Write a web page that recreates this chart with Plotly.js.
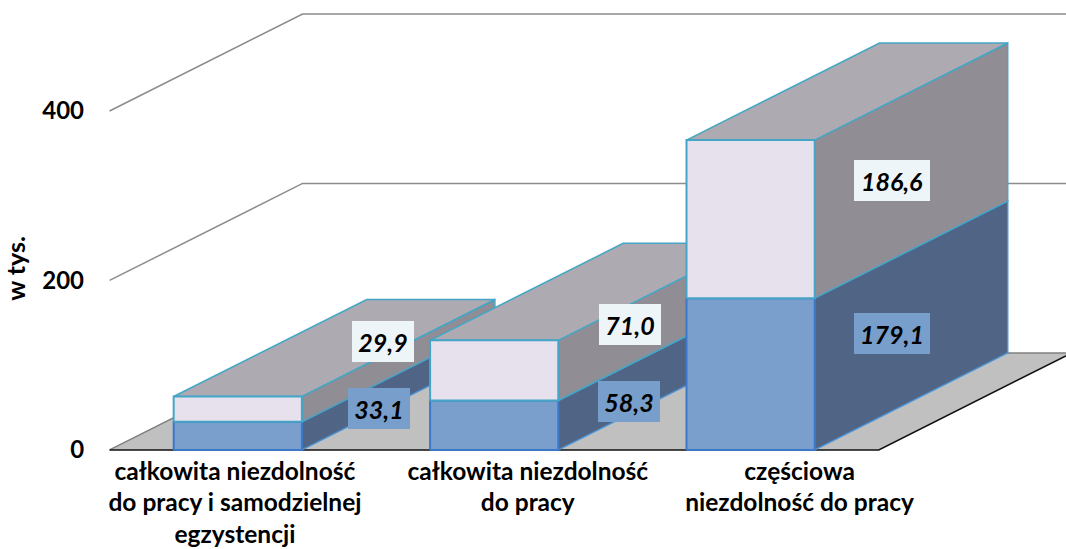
<!DOCTYPE html>
<html><head><meta charset="utf-8">
<script src="https://cdn.plot.ly/plotly-3.0.1.min.js"></script>
<style>html,body{margin:0;padding:0;background:#fff}#c{width:1066px;height:549px}</style>
</head><body><div id="c"></div>
<script>
// Data
const categories = ["całkowita niezdolność<br>do pracy i samodzielnej<br>egzystencji","całkowita niezdolność<br>do pracy","częściowa<br>niezdolność do pracy"];
const lowerValues = [33.1, 58.3, 179.1];
const upperValues = [29.9, 71.0, 186.6];
const lowerLabels = ["33,1","58,3","179,1"];
const upperLabels = ["29,9","71,0","186,6"];
const yTicks = [0, 200, 400];

// Oblique projection of the 3D chart onto the 2D axes
const depthX = 0.7527, depthY = 114.5, halfBar = 0.25;
const P = (x, v, d) => [x + depthX * d, v + depthY * d];
function poly(pts, fill, lineColor, width) {
  const c = pts.map(p => P(p[0], p[1], p[2]));
  c.push(c[0]);
  return {type:'scatter', mode:'lines', x:c.map(p=>p[0]), y:c.map(p=>p[1]), fill:'toself',
          fillcolor:fill, line:{color:lineColor, width:width}, hoverinfo:'skip', showlegend:false};
}
function path(pts, color, width) {
  const c = pts.map(p => P(p[0], p[1], p[2]));
  return {type:'scatter', mode:'lines', x:c.map(p=>p[0]), y:c.map(p=>p[1]),
          line:{color:color, width:width}, hoverinfo:'skip', showlegend:false};
}
const traces = [];
const xL = -0.5, xR = 2.5;
// floor
traces.push(poly([[xL,0,0],[xR,0,0],[xR,0,1],[xL,0,1]], '#c0c0c0', 'rgba(0,0,0,0)', 0));
traces.push(path([[xL,0,0],[xL,0,1],[xR,0,1]], '#808080', 1.5));
traces.push(path([[xL,0,0],[xR,0,0],[xR,0,1]], '#111111', 1.5));
// gridlines on the walls
yTicks.slice(1).forEach(t => traces.push(path([[xL,t,0],[xL,t,1],[xR,t,1]], '#8c8c8c', 1.5)));
// bars
const teal = '#45a5c6', blue = '#3b78c8', skyEdge = '#4b93d6';
lowerValues.forEach((lo, i) => {
  const a = i - halfBar, b = i + halfBar, top = lo + upperValues[i];
  traces.push(poly([[b,0,0],[b,0,1],[b,lo,1],[b,lo,0]], '#506585', skyEdge, 1.5));
  traces.push(poly([[a,0,0],[b,0,0],[b,lo,0],[a,lo,0]], '#7a9fcd', blue, 2));
  traces.push(poly([[b,lo,0],[b,lo,1],[b,top,1],[b,top,0]], '#918d94', teal, 1.5));
  traces.push(poly([[a,top,0],[a,top,1],[b,top,1],[b,top,0]], '#aeaab1', teal, 1.5));
  traces.push(poly([[a,lo,0],[b,lo,0],[b,top,0],[a,top,0]], '#e6e1ec', teal, 2));
});
// data labels: base at segment mid on the side wall, with hand nudges as in the original
const labelDepth = 0.4;
const nudgeLower = [[0,-11.5],[-7,-15],[0,2]];
const nudgeUpper = [[4,28.5],[-6,7],[0,0]];
const annotations = [];
function label(i, mid, text, bg, nudge) {
  const p = P(i + halfBar, mid, labelDepth);
  annotations.push({x:p[0], y:p[1], xref:'x', yref:'y', text:'<b><i>'+text+'</i></b>', showarrow:false,
    xshift:nudge[0], yshift:nudge[1], bgcolor:bg, width:text.length>4?76:62, height:41, align:'center', valign:'middle', borderpad:0, borderwidth:0,
    font:{family:'Lato', size:25, color:'#000'}});
}
lowerValues.forEach((lo,i)=>{
  label(i, lo/2, lowerLabels[i], '#789ecb', nudgeLower[i]);
  label(i, lo+upperValues[i]/2, upperLabels[i], '#edf5f9', nudgeUpper[i]);
});
const layout = {
  width:1066, height:549, margin:{l:0,r:0,t:0,b:0}, paper_bgcolor:'#fff', plot_bgcolor:'#fff', showlegend:false,
  font:{family:'Lato', color:'#000'},
  xaxis:{range:[-0.9273,3.230], domain:[0,1], anchor:'free', position:0.1803, showgrid:false, zeroline:false, showline:false,
         tickmode:'array', tickvals:[-0.011,1.131,2.191], ticktext:categories.map(c=>'<b>'+c+'</b>'), ticks:'', ticklabelstandoff:4, tickangle:0,
         tickfont:{family:'Lato', size:24.5, color:'#000'}},
  yaxis:{range:[-102.7,531], domain:[0.022,1], anchor:'free', position:0.1023, showgrid:false, zeroline:false, showline:false,
         tickmode:'array', tickvals:yTicks, ticktext:yTicks.map(t=>'<b>'+t+'</b>'), ticks:'', ticklabelstandoff:25,
         tickfont:{family:'Lato', size:24, color:'#000'},
         title:{text:'<b>w tys.</b>', standoff:9, font:{family:'Lato', size:25, color:'#000'}}},
  annotations:annotations
};
Plotly.newPlot('c', traces, layout, {staticPlot:true, displayModeBar:false});
</script></body></html>
